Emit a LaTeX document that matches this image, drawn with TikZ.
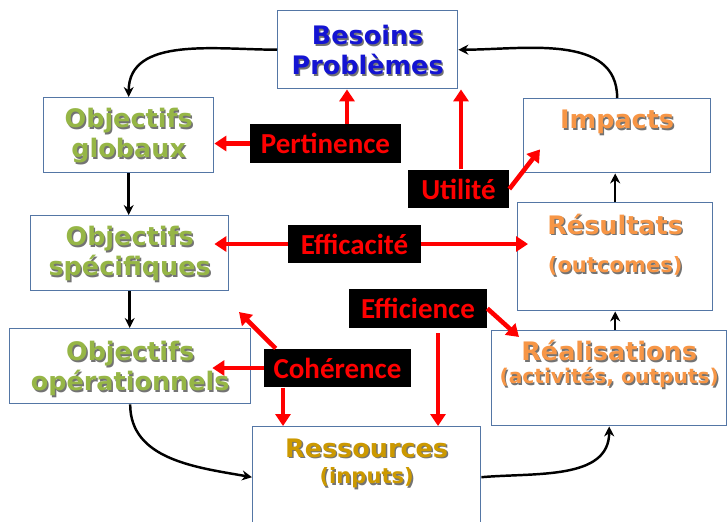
\documentclass[tikz,border=0pt]{standalone}
\usepackage{fontspec}
\usepackage{tikz}
\usetikzlibrary{arrows.meta, calc}

\newfontfamily\boxfont{DejaVu Sans}
\newfontfamily\tagfont{Carlito}

\definecolor{frameblue}{RGB}{84,118,165}
\definecolor{needblue}{RGB}{20,20,210}
\definecolor{goalgreen}{RGB}{150,182,70}
\definecolor{resultorange}{RGB}{247,150,70}
\definecolor{inputgold}{RGB}{204,153,0}

% text with a small drop shadow
\newcommand{\shadowed}[2]{\rlap{\kern0.8pt\raisebox{-0.8pt}{\color{black!55}#2}}{\color{#1}#2}}

\begin{document}
\begin{tikzpicture}[
    x=0.02cm, y=-0.02cm,
    % Styles
    box/.style={
        draw=frameblue,
        line width=0.8pt,
        fill=white,
        inner sep=0pt,
        anchor=north west,
        align=center,
        font=\boxfont\bfseries\fontsize{14.5}{17}\selectfont
    },
    tag/.style={
        fill=black,
        text=red,
        inner sep=0pt,
        minimum height=0.77cm,
        font=\tagfont\bfseries\fontsize{16.5}{18}\selectfont
    },
    hit/.style={
        -{Triangle[length=0.24cm,width=0.3cm]},
        red,
        line width=2.6pt
    },
    flow/.style={
        -{Stealth[length=0.2cm,width=0.2cm]},
        black,
        line width=1.4pt
    }
]
\useasboundingbox (0,0) rectangle (727,521);
\clip (0,0) rectangle (727,521);

% Boxes
\node[box, minimum width=3.6cm, text height=1.28cm, text depth=0.28cm] (besoins) at (277,10)
    {\shadowed{needblue}{Besoins}\\\shadowed{needblue}{Problèmes}};
\node[box, minimum width=3.4cm, text height=1.2cm, text depth=0.3cm] (globaux) at (43,97)
    {\shadowed{goalgreen}{Objectifs}\\\shadowed{goalgreen}{globaux}};
\node[box, minimum width=3.96cm, text height=1.2cm, text depth=0.3cm] (spec) at (30,215)
    {\shadowed{goalgreen}{Objectifs}\\\shadowed{goalgreen}{spécifiques}};
\node[box, minimum width=4.82cm, text height=1.24cm, text depth=0.26cm] (oper) at (9,328)
    {\shadowed{goalgreen}{Objectifs}\\\shadowed{goalgreen}{opérationnels}};
\node[box, minimum width=3.74cm, text height=0.6cm, text depth=0.88cm] (impacts) at (523,98)
    {\shadowed{resultorange}{Impacts}};
\node[box, minimum width=3.9cm, text height=1.4cm, text depth=0.76cm] (res) at (517,202)
    {\shadowed{resultorange}{Résultats}\\[5pt]{\fontsize{12}{14}\selectfont\shadowed{resultorange}{(outcomes)}}};
\node[box, minimum width=4.7cm, text height=1.06cm, text depth=0.84cm] (real) at (491,330)
    {\shadowed{resultorange}{Réalisations}\\[-4pt]{\fontsize{11.5}{13}\selectfont\shadowed{resultorange}{(activités, outputs)}}};
\node[box, minimum width=4.56cm, text height=1.14cm, text depth=0.88cm] (ress) at (252,426)
    {\shadowed{inputgold}{Ressources}\\[-2pt]{\fontsize{12}{14}\selectfont\shadowed{inputgold}{(inputs)}}};

% Criteria
\node[tag, minimum width=3.02cm] (pert) at (325.5,143.5) {Pertinence};
\node[tag, minimum width=2.02cm] (util) at (458.5,189) {Utilité};
\node[tag, minimum width=2.66cm] (effa) at (354.5,244) {Efficacité};
\node[tag, minimum width=2.76cm] (effi) at (418,308.5) {Efficience};
\node[tag, minimum width=2.94cm] (cohe) at (337.5,368) {Cohérence};

% Cycle
\draw[flow] (besoins.west) to[out=180, in=90] (globaux.north);
\draw[flow] (globaux.south) -- (globaux.south |- spec.north);
\draw[flow] (spec.south) -- (spec.south |- oper.north);
\draw[flow] (oper.south) to[out=-90, in=170] (ress.west);
\draw[flow] (ress.east) to[out=5, in=-90] (real.south);
\draw[flow] (real.north -| res.south) -- (res.south);
\draw[flow] (res.north) -- (res.north |- impacts.south);
\draw[flow] (impacts.north) to[out=90, in=0] (besoins.east);

% Criteria arrows
\coordinate (pertUp) at ($(pert.north)+(21.5,0)$);
\draw[hit] (pertUp) -- (pertUp |- besoins.south);
\draw[hit] (pert.west) -- (pert.west -| globaux.east);

\coordinate (utilUp) at ($(util.north)+(2.5,0)$);
\draw[hit] (utilUp) -- (utilUp |- besoins.south);
\coordinate (utilTip) at ($(impacts.south west)+(17,-24)$);
\draw[hit] (util.east) -- (utilTip);

\coordinate (effaL) at ($(spec.east)+(-15,0)$);
\coordinate (effaR) at ($(res.west)+(11,0)$);
\draw[hit] (effa.west) -- (effa.west -| effaL);
\draw[hit] (effa.east) -- (effa.east -| effaR);

\coordinate (effiTip) at ($(real.north west)+(28,7)$);
\draw[hit] (effi.east) -- (effiTip);
\coordinate (effiDown) at ($(effi.south)+(20,5)$);
\draw[hit] (effiDown) -- (effiDown |- ress.north);

\coordinate (coheUp) at ($(cohe.north west)+(12,0)$);
\coordinate (coheTip) at (239,312);
\draw[hit] (coheUp) -- (coheTip);
\coordinate (coheL) at ($(oper.east)+(-39,0)$);
\draw[hit] (cohe.west) -- (cohe.west -| coheL);
\coordinate (coheDown) at ($(cohe.south)+(-54.5,0)$);
\draw[hit] (coheDown) -- (coheDown |- ress.north);

\end{tikzpicture}
\end{document}
